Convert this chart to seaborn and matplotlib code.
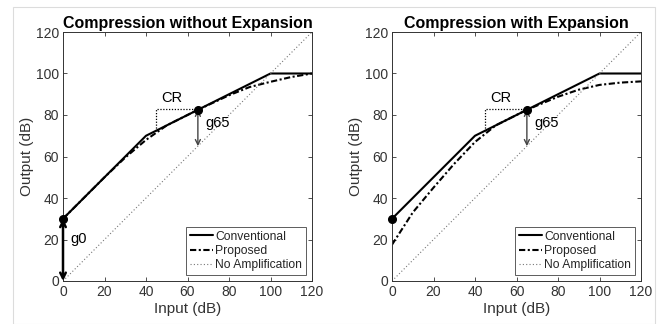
import numpy as np
import pandas as pd
import matplotlib
matplotlib.use("Agg")
import matplotlib.pyplot as plt
import seaborn as sns
from matplotlib.patches import Rectangle

# ---- data ----
titles = ["Compression without Expansion", "Compression with Expansion"]
conv_x = [0, 40, 65, 100, 120]
conv_y = [30, 70, 82.5, 100, 100]
prop_x = [0, 10, 20, 30, 40, 50, 65, 80, 90, 100, 110, 120]
prop_left_y = [30, 40, 50, 59.5, 68, 75, 82.5, 89.5, 93.5, 96, 98.3, 100]
prop_right_y = [17.5, 33, 45, 56.5, 67, 75, 82.5, 88.8, 92.2, 94.5, 95.6, 96.2]
noamp_x = [0, 120]
noamp_y = [0, 120]
ticks = [0, 20, 40, 60, 80, 100, 120]
legend_labels = ["Conventional", "Proposed", "No Amplification"]

sns.set_theme(style="white")
plt.rcParams["font.family"] = ["Liberation Sans", "DejaVu Sans"]

fig = plt.figure(figsize=(6.7, 3.24), dpi=100)
W, H = 670, 324
fig.patches.append(Rectangle((13 / W, 0), (655 - 13) / W, (H - 7) / H,
                             transform=fig.transFigure, fill=False,
                             edgecolor="#dcdcdc", lw=0.8))

ax_l = fig.add_axes([63 / W, (H - 281) / H, 249 / W, 249 / H])
ax_r = fig.add_axes([392 / W, (H - 281) / H, 249 / W, 249 / H])

tick_col = "#333333"
for i, (ax, prop_y) in enumerate(zip([ax_l, ax_r], [prop_left_y, prop_right_y])):
    sns.lineplot(x=conv_x, y=conv_y, ax=ax, color="black", lw=1.5,
                 label=legend_labels[0], sort=False)
    sns.lineplot(x=prop_x, y=prop_y, ax=ax, color="black", lw=1.5,
                 label=legend_labels[1], sort=False)
    ax.lines[-1].set_dashes([3, 1.2, 1.0, 1.2])
    sns.lineplot(x=noamp_x, y=noamp_y, ax=ax, color="#777777", lw=0.8,
                 label=legend_labels[2], sort=False)
    ax.lines[-1].set_linestyle((0, (1, 2)))

    # markers
    ax.plot([conv_x[0], conv_x[2]], [conv_y[0], conv_y[2]], "o", color="black",
            ms=5.5, zorder=6, clip_on=False)

    # CR triangle
    ax.plot([45, 45, 65], [72.5, 82.8, 82.8], color="black", lw=0.9,
            linestyle=(0, (1, 1.3)))
    ax.text(47.5, 88, "CR", fontsize=10.5, va="center", ha="left", color="black")

    # g65 arrow
    ax.annotate("", xy=(65, 65), xytext=(65, 82.5),
                arrowprops=dict(arrowstyle="<->", color="#444444", lw=1.0,
                                shrinkA=0, shrinkB=0, mutation_scale=9))
    ax.text(68.5, 76, "g65", fontsize=10.5, va="center", ha="left", color="black")

    if i == 0:
        ann = ax.annotate("", xy=(0, 0), xytext=(0, 30),
                          arrowprops=dict(arrowstyle="<->", color="black", lw=1.8,
                                          shrinkA=0, shrinkB=0, mutation_scale=10),
                          annotation_clip=False)
        ann.arrow_patch.set_clip_on(False)
        ax.text(3.5, 20, "g0", fontsize=10.5, va="center", ha="left", color="black")

    ax.set_xlim(0, 120)
    ax.set_ylim(0, 120)
    ax.set_xticks(ticks)
    ax.set_yticks(ticks)
    ax.tick_params(direction="in", length=3, width=0.6, colors=tick_col,
                   labelsize=10, top=True, right=True, bottom=True, left=True,
                   pad=3)
    for sp in ax.spines.values():
        sp.set_visible(True)
        sp.set_color(tick_col)
        sp.set_linewidth(0.7)
    ax.set_xlabel("Input (dB)", fontsize=11, color=tick_col, labelpad=2)
    ax.set_ylabel("Output (dB)", fontsize=11, color=tick_col, labelpad=1)
    ax.set_title(titles[i], fontsize=11.5, fontweight="bold", color="black", pad=3)

    leg = ax.legend(loc="lower right", fontsize=8.7, frameon=True, fancybox=False,
                    edgecolor=tick_col, handlelength=1.9, handletextpad=0.2,
                    borderpad=0.3, labelspacing=0.2, borderaxespad=0.5)
    leg.get_frame().set_linewidth(0.7)

fig.savefig("out.png", dpi=100)
